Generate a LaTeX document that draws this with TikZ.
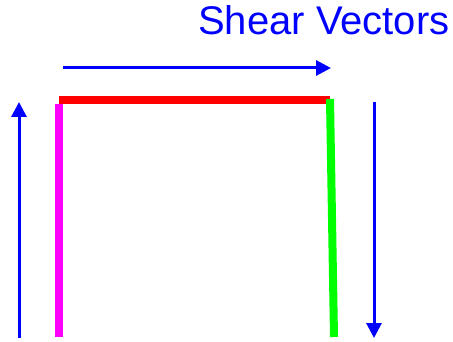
\documentclass[tikz,border=0pt]{standalone}
\usepackage{fontspec}
\setmainfont{Liberation Sans}
\usetikzlibrary{arrows.meta}
\definecolor{shearblue}{RGB}{0,0,255}
\definecolor{sidered}{RGB}{255,0,0}
\definecolor{sidemagenta}{RGB}{255,0,255}
\definecolor{sidegreen}{RGB}{0,255,0}
\tikzstyle{vector} = [draw=shearblue, line width=3pt, -{Triangle[length=15pt,width=15pt]}]
\tikzstyle{side} = [line width=8pt]
\tikzstyle{title} = [text=shearblue, font=\fontsize{40}{40}\selectfont, inner sep=0pt, anchor=base west]

\begin{document}
\begin{tikzpicture}[x=1pt, y=-1pt]
    \useasboundingbox (0,0) rectangle (453,342);

    % Corners of the block
    \coordinate (topleft) at (59,100);
    \coordinate (topright) at (330,100);
    \coordinate (leftstart) at (59,104);
    \coordinate (leftend) at (59,337);
    \coordinate (rightstart) at (330,99);
    \coordinate (rightend) at (334,337);

    % Vector ends
    \coordinate (upfrom) at (19,338);
    \coordinate (upto) at (19,102);
    \coordinate (acrossfrom) at (63,68);
    \coordinate (acrossto) at (331,68);
    \coordinate (downfrom) at (374,102);
    \coordinate (downto) at (374,338);

    % Title
    \node (label) [title] at (198,35) {Shear Vectors};

    % Sides
    \draw [side, sidered] (topleft) -- (topright);
    \draw [side, sidemagenta] (leftstart) -- (leftend);
    \draw [side, sidegreen] (rightstart) -- (rightend);

    % Shear vectors
    \draw [vector] (upfrom) -- (upto);
    \draw [vector] (acrossfrom) -- (acrossto);
    \draw [vector] (downfrom) -- (downto);

\end{tikzpicture}
\end{document}
